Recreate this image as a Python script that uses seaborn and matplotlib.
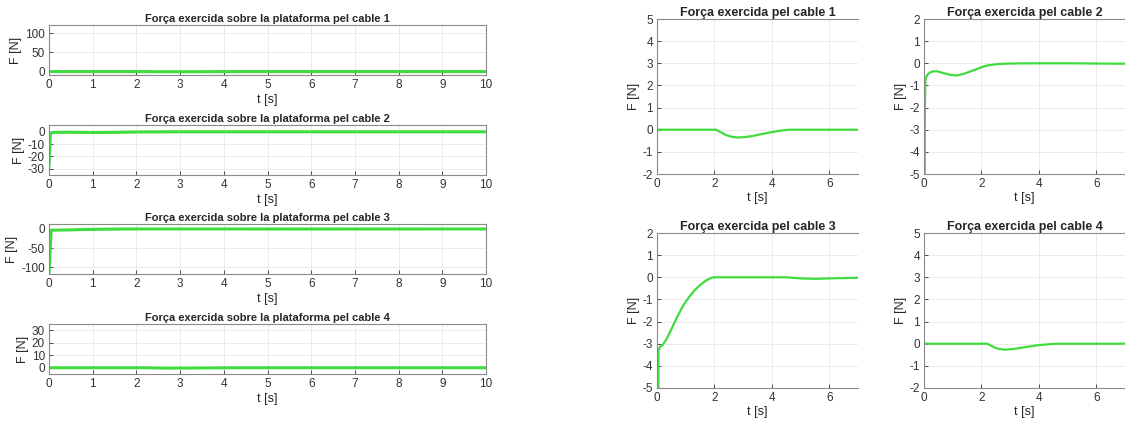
import numpy as np
import pandas as pd
import seaborn as sns
from matplotlib import pyplot as plt

# Dades llegides del gràfic (temps [s], força [N])
t_cable1 = [0, 2.05, 2.2, 2.4, 2.6, 2.8, 3.0, 3.3, 3.6, 4.0, 4.3, 4.6, 10]
f_cable1 = [0, 0, -0.1, -0.24, -0.32, -0.35, -0.34, -0.29, -0.21, -0.11, -0.04, 0, 0]

t_cable2 = [0, 0.03, 0.05, 0.1, 0.2, 0.3, 0.45, 0.7, 0.95, 1.15, 1.4, 1.7, 2.0, 2.2, 2.6, 3.0, 4.0, 5.0, 6.0, 7.0, 10]
f_cable2 = [-28, -2.0, -0.75, -0.55, -0.42, -0.37, -0.36, -0.45, -0.53, -0.55, -0.47, -0.33, -0.18, -0.1, -0.03, -0.01, 0, 0, -0.01, -0.02, 0]

t_cable3 = [0, 0.05, 0.1, 0.2, 0.35, 0.5, 0.7, 0.9, 1.1, 1.3, 1.5, 1.7, 1.9, 2.0, 4.5, 5.0, 5.5, 6.0, 7.0, 10]
f_cable3 = [-118, -3.3, -3.15, -3.05, -2.75, -2.35, -1.8, -1.3, -0.92, -0.6, -0.35, -0.15, -0.02, 0, 0, -0.05, -0.07, -0.05, -0.02, 0]

t_cable4 = [0, 2.2, 2.35, 2.55, 2.8, 3.1, 3.5, 4.0, 4.6, 10]
f_cable4 = [0, 0, -0.1, -0.22, -0.27, -0.24, -0.16, -0.06, 0, 0]

temps = [t_cable1, t_cable2, t_cable3, t_cable4]
forces = [f_cable1, f_cable2, f_cable3, f_cable4]

# Límits dels eixos
ylims_esq = [(-9, 122), (-35, 5.5), (-118, 13), (-5, 35)]
yticks_esq = [[0, 50, 100], [-30, -20, -10, 0], [-100, -50, 0], [0, 10, 20, 30]]
ylims_dre = [(-2, 5), (-5, 2), (-5, 2), (-2, 5)]

verd = '#3fdc3f'
W, H = 1125, 424

sns.set_style("whitegrid", {
    "grid.color": "#e8e8e8",
    "axes.edgecolor": "#8a8a8a",
    "xtick.direction": "in",
    "ytick.direction": "in",
    "xtick.bottom": True,
    "ytick.left": True,
})
plt.rcParams['font.family'] = ['Liberation Sans', 'DejaVu Sans']
plt.rcParams['font.size'] = 8
plt.rcParams['axes.unicode_minus'] = False

fig = plt.figure(figsize=(W / 100, H / 100), dpi=100)


def eix(l, t, w, h):
    return fig.add_axes([l / W, 1 - (t + h) / H, w / W, h / H])


def estil(ax):
    ax.tick_params(colors='#333333', labelsize=8.5, length=3, width=0.6, pad=3)
    for s in ax.spines.values():
        s.set_linewidth(0.8)
    ax.grid(True, linewidth=0.6)


# Columna esquerra: 0 a 10 s
tops_esq = [25, 125, 224, 324]
for i in range(4):
    ax = eix(49, tops_esq[i], 437, 50)
    df = pd.DataFrame({"t": temps[i], "F": forces[i]})
    sns.lineplot(data=df, x="t", y="F", ax=ax, color=verd, linewidth=2.2)
    ax.set_xlim(0, 10)
    ax.set_xticks(range(0, 11))
    ax.set_ylim(*ylims_esq[i])
    ax.set_yticks(yticks_esq[i])
    ax.set_title(f"Força exercida sobre la plataforma pel cable {i + 1}",
                 fontweight='bold', fontsize=8, pad=2)
    ax.set_xlabel("t [s]", fontsize=9, labelpad=2)
    ax.set_ylabel("F [N]", fontsize=9, labelpad=2)
    estil(ax)

# Columna dreta: detall 0 a 7 s
pos_dre = [(657, 19), (924, 19), (657, 233), (924, 233)]
for i in range(4):
    l, t = pos_dre[i]
    ax = eix(l, t, 201, 155)
    df = pd.DataFrame({"t": temps[i], "F": forces[i]})
    sns.lineplot(data=df, x="t", y="F", ax=ax, color=verd, linewidth=1.6)
    ax.set_xlim(0, 7)
    ax.set_xticks([0, 2, 4, 6])
    ax.set_ylim(*ylims_dre[i])
    ax.set_yticks(range(ylims_dre[i][0], ylims_dre[i][1] + 1))
    ax.spines['right'].set_visible(False)
    ax.set_title(f"Força exercida pel cable {i + 1}", fontweight='bold', fontsize=9, pad=2)
    ax.set_xlabel("t [s]", fontsize=9, labelpad=1)
    ax.set_ylabel("F [N]", fontsize=9, labelpad=2)
    estil(ax)

plt.savefig("out.png", dpi=100)
plt.close()
